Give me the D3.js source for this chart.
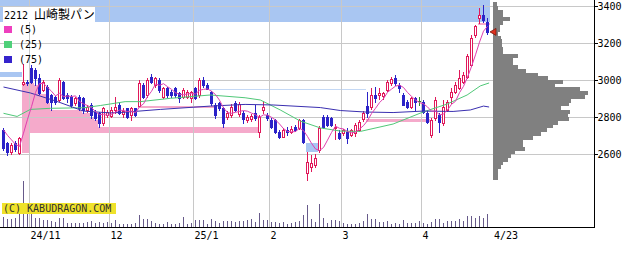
<!DOCTYPE html>
<html><head><meta charset="utf-8">
<script src="https://cdn.jsdelivr.net/npm/d3@7"></script>
<style>
html,body{margin:0;padding:0;background:#fff;}
svg{display:block;}
</style></head><body>
<svg id="c" width="639" height="255"></svg>
<script>
// ---------------- DATA ----------------
const tradingDays = [
  ["2024-10", [23,24,25,28,29,30,31]],
  ["2024-11", [1,5,6,7,8,11,12,13,14,15,18,19,20,21,22,25,26,27,28,29]],
  ["2024-12", [2,3,4,5,6,9,10,11,12,13,16,17,18,19,20,23,24,25,26,27,30]],
  ["2025-01", [6,7,8,9,10,14,15,16,17,20,21,22,23,24,27,28,29,30,31]],
  ["2025-02", [3,4,5,6,7,10,12,13,14,17,18,19,20,21,25,26,27,28]],
  ["2025-03", [3,4,5,6,7,10,11,12,13,14,17,18,19,21,24,25,26,27,28,31]],
  ["2025-04", [1,2,3,4,7,8,9,10,11,14,15,16,17,18,21,22,23]]
];
const open = [2730,2659,2612,2659,2605,2978,2990,3063,3054,3010, 2946,2964,2919,2910,2892,2991,2919,2910,2876,2910,
 2901,2838,2865,2829,2820,2766,2811,2807,2838,2865, 2816,2847,2811,2847,2862,2973,2919,3018,2973,3000,
 2910,2955,2937,2955,2928,2910,2910,2901,2955,2919, 3000,2973,2937,2865,2874,2847,2802,2811,2874,2816,
 2820,2784,2790,2820,2721,2838,2811,2784,2784,2721, 2694,2730,2718,2748,2739,2784,2495,2530,2541,2622,
 2802,2802,2793,2738,2713,2713,2721,2703,2711,2730, 2790,2860,2856,2919,2919,2912,2946,2982,3009,2973,
 2919,2883,2856,2901,2885,2883,2820,2703,2793,2811, 2766,2838,2910,2937,2955,2991,3018,3081,3243,3333,
 3351,3315];
const high = [2741,2666,2660,2670,2692,3085,3000,3081,3063,3030, 3000,2973,2925,2915,3009,2997,2928,2919,2910,2919,
 2910,2865,2874,2838,2829,2856,2838,2856,2910,2874, 2847,2850,2856,2850,3000,2982,3009,3031,3018,3009,
 2964,2964,2946,2960,2937,2955,2946,2940,2964,3009, 3018,2982,2940,2874,2880,2856,2830,2870,2884,2880,
 2830,2810,2815,2865,2810,2884,2820,2793,2790,2730, 2740,2748,2750,2757,2790,2790,2612,2595,2600,2750,
 2811,2811,2802,2760,2730,2735,2740,2735,2765,2785, 2830,2937,2955,2960,2955,2935,3000,3018,3027,2982,
 2928,2892,2910,2910,2910,2892,2830,2793,2910,2820, 2892,2890,2955,2990,3054,3045,3140,3243,3296,3388,
 3405,3333];
const low = [2622,2595,2600,2617,2600,2975,2975,2984,2973,2925, 2940,2876,2838,2870,2885,2895,2883,2856,2865,2838,
 2822,2829,2793,2784,2748,2757,2802,2802,2820,2816, 2802,2793,2784,2805,2862,2901,2910,2982,2964,2937,
 2901,2910,2910,2910,2883,2901,2905,2883,2895,2910, 2964,2949,2865,2793,2838,2748,2790,2802,2830,2805,
 2766,2775,2780,2784,2694,2820,2784,2740,2712,2685, 2690,2703,2712,2725,2735,2660,2459,2510,2530,2610,
 2740,2750,2750,2680,2680,2705,2658,2700,2700,2725, 2780,2800,2845,2880,2900,2900,2940,2975,2975,2937,
 2865,2850,2850,2840,2865,2820,2766,2694,2784,2721, 2757,2830,2875,2930,2950,2985,3010,3075,3235,3310,
 3315,3250];
const close = [2632,2611,2649,2627,2686,2990,2985,2991,3009,2930, 2991,2883,2883,2883,3000,2901,2903,2865,2903,2847,
 2838,2856,2811,2793,2766,2847,2827,2838,2856,2820, 2832,2802,2850,2811,2982,2910,3000,2991,3009,2946,
 2955,2919,2919,2919,2901,2946,2937,2937,2901,3000, 2973,2949,2874,2811,2847,2766,2820,2856,2838,2870,
 2790,2802,2805,2793,2802,2856,2793,2748,2721,2694, 2730,2718,2735,2730,2784,2666,2558,2551,2578,2741,
 2748,2757,2757,2748,2685,2730,2685,2730,2757,2775, 2820,2820,2919,2901,2928,2928,2991,3005,2982,2955,
 2865,2856,2901,2883,2885,2829,2775,2784,2892,2775, 2856,2883,2937,2973,3009,3027,3130,3225,3290,3351,
 3324,3260];
const priorCloses = [2760,2770,2750,2740];
const volume = [1000,830,770,900,1330,4630,1500,1430,900,900, 670,670,600,500,930,930,430,430,430,430,
 430,500,570,430,500,430,500,430,730,330, 300,300,300,400,1230,770,770,570,400,300,
 300,500,330,330,370,1000,330,430,670,730, 670,330,770,630,430,570,570,570,500,570,
 570,730,770,500,1430,730,670,500,500,430, 500,330,430,500,600,1170,2230,830,500,2330,
 900,430,670,730,570,430,330,270,330,430, 600,1330,830,770,500,500,570,330,400,330,
 730,430,430,430,570,400,330,500,830,830, 430,570,570,600,770,600,1070,1130,900,1130,
 930,1330];
// moving averages: [day index, price]
const ma25Idx = [0,3.4,6.7,11.7,20,24.2,30.4,34.2,41.7,51.7,60.4,64.2,69.2,74.2,79.2,84.2,89.2,97.4,104.9,110.9,115.9,119.2,121.4];
const ma25Val = [2820,2803,2841,2847,2850,2862,2883,2883,2901,2919,2904,2892,2838,2778,2741,2724,2722,2762,2827,2870,2919,2968,2984];
const ma75Idx = [0,6.7,13.4,20,26.7,30.4,39.2,51.7,60.4,67.4,79.2,84.2,90.4,97.4,104.9,112.4,116.7,120,121.4];
const ma75Val = [2962,2930,2884,2832,2822,2826,2841,2859,2868,2865,2851,2835,2827,2824,2832,2830,2838,2859,2854];
// price gap zones (窓)
const gapFrom  = [5, 7, 34, 91, 119, 0, 0, 76, 52];
const gapTo    = [6, 63, 52, 106, 121, 121, 4, 78, 90];
const gapLo    = [2605, 2713, 2850, 2773, 3296, 3313, 3016, 2612, 2944];
const gapHi    = [2984, 2984, 2862, 2790, 3310, 3460, 3043, 2660, 2949];
const gapKind  = ["up","up","up","up","up","down","down","down","down"];
const gapShrink= [false,true,false,false,false,false,false,false,false];
// price-by-volume profile (20-yen bins from 2460)
const profileFrom = 2460, profileStep = 20;
const profileVol = [5,5,5,8,10,15,18,22,32,30, 30,40,48,54,60,65,76,75,77,68,
 76,78,92,95,87,62,70,55,45,33, 25,20,20,25,10,10,9,9,8,5, 7,7,10,17,10,10,5,4];
const priceTicks = [2600, 2800, 3000, 3200, 3400];
const title = "2212", titleName = "山崎製パン";
const maLabels = ["(5)", "(25)", "(75)"];
const maColors = ["#ee3fbe", "#4fd07a", "#3523cc"];
const copyright = "(C) KABUDRAGON.COM";

// ---------------- DERIVED ----------------
const dates = [];
tradingDays.forEach(([ym, ds]) => ds.forEach(d => dates.push(ym + "-" + String(d).padStart(2,"0"))));
const N = dates.length;
const allCloses = priorCloses.concat(close);
const ma5 = close.map((c, i) => d3.mean(allCloses.slice(i, i + 5)));

// ---------------- SCALES ----------------
const svg = d3.select("#c");
const x = d3.scaleLinear().domain([0, N - 1]).range([3.5, 3.5 + 4 * (N - 1)]);
const y = d3.scaleLinear().domain([2600, 3400]).range([154, 6]);
const yv = d3.scaleLinear().domain([0, 5000]).range([227, 177]);
const pw = d3.scaleLinear().domain([0, 100]).range([0, 100]);
const plotRight = 594.5, axisY = 227.5, profX = 493;
const UP = "#e0185a", DOWN = "#2b22c8", DOJI = "#2a8a2a";

svg.append("clipPath").attr("id", "clip").append("rect")
  .attr("x", 0).attr("y", 0).attr("width", plotRight).attr("height", axisY);
const plot = svg.append("g").attr("clip-path", "url(#clip)");

// gap zones
const zoneG = plot.append("g").attr("shape-rendering", "crispEdges");
gapFrom.forEach((f, k) => {
  const col = gapKind[k] === "up" ? "#f5aacb" : (gapHi[k] - gapLo[k] < 8 ? "#c4d8f4" : "#a9c6f2");
  let runMin = Infinity;
  for (let i = f; i <= gapTo[k]; i++) {
    runMin = Math.min(runMin, low[i]);
    const top = gapShrink[k] ? Math.min(gapHi[k], runMin) : gapHi[k];
    if (top <= gapLo[k]) continue;
    const x0 = i === 0 ? 0 : x(i) - 2;
    zoneG.append("rect")
      .attr("x", x0).attr("width", x(i) + 2 - x0)
      .attr("y", y(top)).attr("height", Math.max(1, y(gapLo[k]) - y(top)))
      .attr("fill", col);
  }
});

// grid
const grid = plot.append("g").attr("stroke", "#c8c8c8").attr("shape-rendering", "crispEdges");
grid.selectAll("line.h").data(priceTicks).join("line")
  .attr("x1", 0).attr("x2", plotRight)
  .attr("y1", d => Math.round(y(d)) + 0.5).attr("y2", d => Math.round(y(d)) + 0.5);
const monthStarts = [];
dates.forEach((d, i) => { if (i > 0 && d.slice(0, 7) !== dates[i - 1].slice(0, 7)) monthStarts.push(i); });
grid.selectAll("line.v").data(monthStarts).join("line")
  .attr("x1", i => x(i) - 2).attr("x2", i => x(i) - 2)
  .attr("y1", 0).attr("y2", axisY);

// volume
plot.append("g").attr("stroke", "#675a8a").attr("shape-rendering", "crispEdges")
  .selectAll("line").data(volume).join("line")
  .attr("x1", (v, i) => x(i)).attr("x2", (v, i) => x(i))
  .attr("y1", yv(0)).attr("y2", v => yv(v));

// candles
const cg = plot.append("g").attr("shape-rendering", "crispEdges");
close.forEach((c, i) => {
  const o = open[i];
  const col = c > o ? UP : (c < o ? DOWN : DOJI);
  cg.append("line").attr("x1", x(i)).attr("x2", x(i))
    .attr("y1", Math.round(y(high[i]))).attr("y2", Math.round(y(low[i])) + 1)
    .attr("stroke", col);
  const yt = Math.round(y(Math.max(o, c))), yb = Math.round(y(Math.min(o, c)));
  if (c > o) {
    cg.append("rect").attr("x", x(i) - 1).attr("width", 2)
      .attr("y", yt + 0.5).attr("height", Math.max(1, yb - yt))
      .attr("fill", "#fff").attr("stroke", col);
  } else if (c < o) {
    cg.append("rect").attr("x", x(i) - 1.5).attr("width", 3)
      .attr("y", yt).attr("height", Math.max(1, yb - yt + 1))
      .attr("fill", col);
  } else {
    cg.append("line").attr("x1", x(i) - 1.5).attr("x2", x(i) + 1.5)
      .attr("y1", yt + 0.5).attr("y2", yt + 0.5).attr("stroke", col);
  }
});

// moving averages
const line = d3.line().x(d => x(d[0])).y(d => y(d[1]));
plot.append("path").datum(ma25Idx.map((d, i) => [d, ma25Val[i]]))
  .attr("d", line).attr("fill", "none").attr("stroke", "#50c878").attr("stroke-width", 1);
plot.append("path").datum(ma75Idx.map((d, i) => [d, ma75Val[i]]))
  .attr("d", line).attr("fill", "none").attr("stroke", "#3a2fb0").attr("stroke-width", 1);
plot.append("path").datum(ma5.map((d, i) => [i, d]))
  .attr("d", line).attr("fill", "none").attr("stroke", "#e040b0").attr("stroke-width", 1);

// volume-by-price profile
plot.append("g").attr("fill", "#808080").attr("shape-rendering", "crispEdges")
  .selectAll("rect").data(profileVol).join("rect")
  .attr("x", profX)
  .attr("y", (v, k) => y(profileFrom + (k + 1) * profileStep))
  .attr("height", (v, k) => y(profileFrom + k * profileStep) - y(profileFrom + (k + 1) * profileStep) + 0.3)
  .attr("width", v => pw(v));

// last price marker
const lastY = y(close[N - 1]);
svg.append("path")
  .attr("d", `M${profX - 3},${lastY} L${profX + 3},${lastY - 3.5} L${profX + 3},${lastY + 3.5} Z`)
  .attr("fill", "#e0301e").attr("stroke", "#7a1a10").attr("stroke-width", 0.8);

// frame
svg.append("g").attr("stroke", "#000").attr("shape-rendering", "crispEdges").call(g => {
  g.append("line").attr("x1", 0).attr("x2", plotRight).attr("y1", axisY).attr("y2", axisY);
  g.append("line").attr("x1", plotRight).attr("x2", plotRight).attr("y1", 0).attr("y2", axisY);
});

// right price axis
const ax = svg.append("g").attr("transform", `translate(${plotRight},0)`)
  .call(d3.axisRight(y).tickValues(priceTicks).tickSize(3).tickPadding(0).tickFormat(d3.format("d")));
ax.select(".domain").remove();
ax.selectAll("line").attr("shape-rendering", "crispEdges");
ax.selectAll("text").attr("font-family", "DejaVu Sans Mono, monospace").attr("font-size", 10).attr("fill", "#000").attr("dy", "0.35em");

// date labels
const fmtTick = (d, k) => {
  const [yy, mm] = d.split("-");
  return (k === 0 || mm === "01") ? yy.slice(2) + "/" + (+mm) : String(+mm);
};
svg.append("g").attr("font-family", "DejaVu Sans Mono, monospace").attr("font-size", 10).attr("fill", "#000")
  .selectAll("text").data(monthStarts).join("text")
  .attr("x", i => x(i) - 1).attr("y", 239)
  .text((i, k) => fmtTick(dates[i], k));
const last = dates[N - 1].split("-");
svg.append("text").attr("x", x(N - 1) + 6.5).attr("y", 239)
  .attr("font-family", "DejaVu Sans Mono, monospace").attr("font-size", 10)
  .text((+last[1]) + "/" + (+last[2]));

// title
svg.append("rect").attr("x", 3).attr("y", 7).attr("width", 92).attr("height", 15).attr("fill", "#fff");
const tt = svg.append("text").attr("x", 4).attr("y", 19).attr("fill", "#000");
tt.append("tspan").attr("font-family", "DejaVu Sans Mono, monospace").attr("font-size", 10).text(title + " ");
tt.append("tspan").attr("font-family", "Noto Sans CJK JP").attr("font-size", 12).text(titleName);

// legend
maLabels.forEach((l, k) => {
  svg.append("rect").attr("x", 4).attr("y", 26 + k * 15).attr("width", 8).attr("height", 7)
    .attr("fill", maColors[k]);
  svg.append("text").attr("x", 19).attr("y", 33 + k * 15)
    .attr("font-family", "DejaVu Sans Mono, monospace").attr("font-size", 10).attr("fill", "#000").text(l);
});

// copyright
svg.append("rect").attr("x", 2).attr("y", 203).attr("width", 114).attr("height", 11).attr("fill", "#efe22a");
svg.append("text").attr("x", 3).attr("y", 212)
  .attr("font-family", "DejaVu Sans Mono, monospace").attr("font-size", 10).attr("fill", "#303030").text(copyright);
</script>
</body></html>
